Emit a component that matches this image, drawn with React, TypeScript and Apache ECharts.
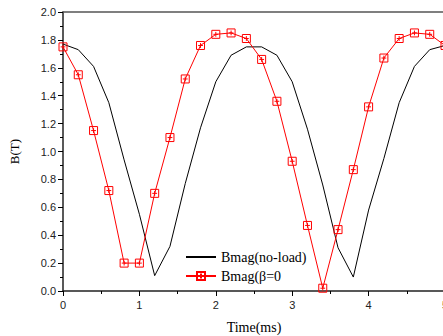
import React, { useEffect, useRef } from "react";
import * as echarts from "echarts";

const timeMs = [0, 0.2, 0.4, 0.6, 0.8, 1.0, 1.2, 1.4, 1.6, 1.8, 2.0, 2.2, 2.4, 2.6, 2.8, 3.0, 3.2, 3.4, 3.6, 3.8, 4.0, 4.2, 4.4, 4.6, 4.8, 5.0];
const noLoad = [1.77, 1.73, 1.61, 1.35, 0.94, 0.55, 0.11, 0.32, 0.77, 1.17, 1.5, 1.69, 1.75, 1.75, 1.69, 1.5, 1.16, 0.76, 0.31, 0.1, 0.58, 0.95, 1.35, 1.61, 1.73, 1.76];
const beta0 = [1.75, 1.55, 1.15, 0.72, 0.2, 0.2, 0.7, 1.1, 1.52, 1.76, 1.84, 1.85, 1.81, 1.66, 1.36, 0.93, 0.47, 0.02, 0.44, 0.87, 1.32, 1.67, 1.81, 1.85, 1.84, 1.76];
const seriesNames = ["Bmag(no-load)", "Bmag(β=0"];

export default function App() {
  const ref = useRef<HTMLDivElement>(null);
  useEffect(() => {
    document.body.style.margin = "0";
    if (!ref.current) return;
    const chart = echarts.init(ref.current, null, { renderer: "svg" });
    const axisLabel = { fontFamily: "Liberation Sans", fontSize: 11, color: "#222" };
    chart.setOption({
      animation: false,
      backgroundColor: "#fff",
      grid: { left: 63, top: 12, right: -2, bottom: 45, outerBoundsMode: "none", containLabel: false },
      legend: {
        left: 185,
        top: 250,
        padding: 0,
        orient: "vertical",
        itemWidth: 30,
        itemHeight: 10,
        itemGap: 5,
        textStyle: { fontFamily: "Liberation Serif", fontSize: 14, color: "#000" },
        data: [
          { name: seriesNames[0], itemStyle: { opacity: 0 } },
          { name: seriesNames[1] },
        ],
      },
      xAxis: [
        {
          type: "value",
          min: 0,
          max: 5,
          interval: 1,
          name: "Time(ms)",
          nameLocation: "middle",
          nameGap: 29,
          nameTextStyle: { fontFamily: "Liberation Serif", fontSize: 14, color: "#000" },
          axisLine: { show: true, lineStyle: { color: "#222", width: 1.5 } },
          axisTick: { show: true, length: 5, inside: false, lineStyle: { color: "#000" } },
          minorTick: { show: true, splitNumber: 2, length: 3, lineStyle: { color: "#000" } },
          axisLabel: { ...axisLabel, margin: 8 },
          splitLine: { show: false },
        },
        {
          type: "value",
          position: "top",
          min: 0,
          max: 5,
          axisLine: { show: true, onZero: false, lineStyle: { color: "#555", width: 1.5 } },
          axisTick: { show: false },
          axisLabel: { show: false },
          splitLine: { show: false },
        },
      ],
      yAxis: {
        type: "value",
        min: 0,
        max: 2,
        interval: 0.2,
        name: "B(T)",
        nameLocation: "middle",
        nameGap: 42,
        nameTextStyle: { fontFamily: "Liberation Serif", fontSize: 13, color: "#000" },
        axisLine: { show: true, lineStyle: { color: "#222", width: 1.5 } },
        axisTick: { show: true, length: 5, lineStyle: { color: "#000" } },
        minorTick: { show: true, splitNumber: 2, length: 3, lineStyle: { color: "#000" } },
        axisLabel: { ...axisLabel, margin: 7, formatter: (v: number) => v.toFixed(1) },
        splitLine: { show: false },
      },
      series: [
        {
          name: seriesNames[0],
          type: "line",
          data: timeMs.map((t, i) => [t, noLoad[i]]),
          symbol: "none",
          lineStyle: { color: "#000", width: 1 },
          itemStyle: { color: "#000" },
        },
        {
          name: seriesNames[1],
          type: "line",
          data: timeMs.map((t, i) => [t, beta0[i]]),
          symbol: "path://M0,0 L10,0 L10,10 L0,10 Z M5,2 L5,8 M2,5 L8,5",
          symbolSize: 8,
          lineStyle: { color: "#ff0000", width: 1 },
          itemStyle: { color: "rgba(255,255,255,0)", borderColor: "#ff0000", borderWidth: 1 },
        },
      ],
    });
    return () => chart.dispose();
  }, []);
  return <div ref={ref} style={{ width: 443, height: 336 }} />;
}
